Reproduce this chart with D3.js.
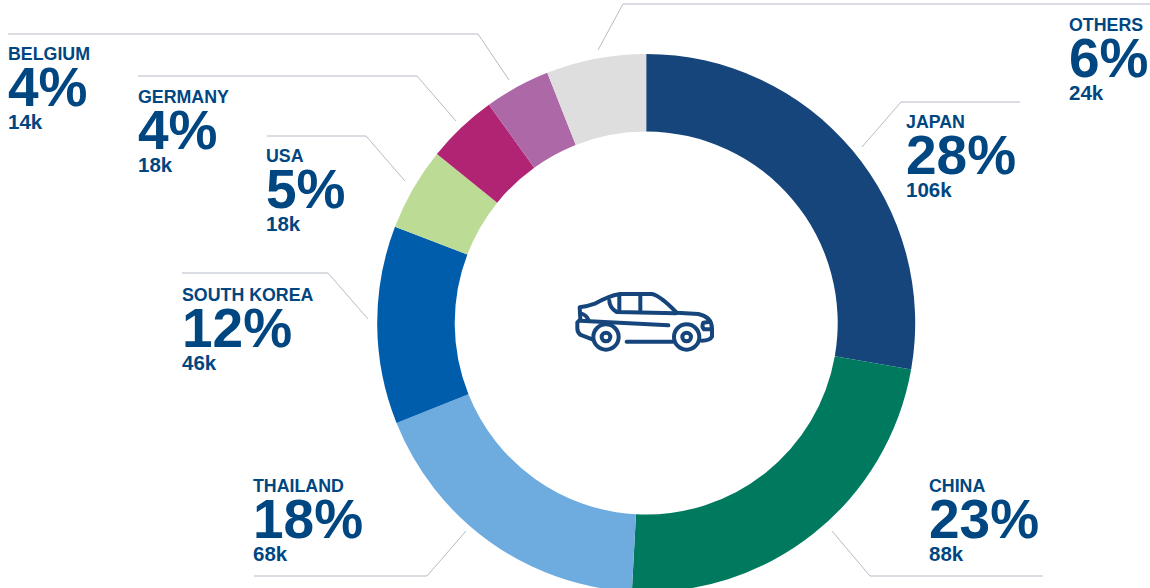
<!DOCTYPE html>
<html><head><meta charset="utf-8">
<script src="https://cdnjs.cloudflare.com/ajax/libs/d3/7.8.5/d3.min.js"></script>
<style>html,body{margin:0;padding:0;background:#fff;overflow:hidden}svg{display:block}
text{font-family:"Liberation Sans",Arial,sans-serif;font-weight:700;fill:#004680}</style>
</head><body><svg id="c" width="1150" height="588"></svg>
<script>
const countries=["JAPAN","CHINA","THAILAND","SOUTH KOREA","USA","GERMANY","BELGIUM","OTHERS"];
const shares=[27.8,23.1,18.1,11.9,5.0,4.25,3.95,6.0];
const pctLabels=["28%","23%","18%","12%","5%","4%","4%","6%"];
const volLabels=["106k","88k","68k","46k","18k","18k","14k","24k"];
const colors=["#16457b","#007a5e","#6eace0","#005dab","#bcdc95","#b12373","#ad68a7","#dedede"];
// annotation layout: label anchor [x, baseline of name]
const labelAnchors=[[906,127.5],[929,491.5],[253,491.5],[182,300.5],[266,161.5],[138,102.5],[8,60],[1069,30.5]];
const leaders=[
 [[1020,102],[901,102],[862,147]],
 [[1043,576],[870,576],[832,531]],
 [[254,576],[427,576],[466,531]],
 [[182,273],[328,273],[368,319]],
 [[267,136],[366,136],[405,181]],
 [[138,76],[417,76],[456,121]],
 [[8,34],[478,34],[509,80]],
 [[1150,4],[623,4],[598,50]]
];
const svg=d3.select("#c");
const cx=646.2,cy=323,R=269,r=191.5;
const pie=d3.pie().sort(null).value(d=>d);
const arc=d3.arc().innerRadius(r).outerRadius(R);
svg.append("g").attr("transform",`translate(${cx},${cy})`)
 .selectAll("path").data(pie(shares)).join("path")
 .attr("d",arc).attr("fill",(d,i)=>colors[i]);
const line=d3.line();
svg.append("g").selectAll("path").data(leaders).join("path")
 .attr("d",d=>line(d)).attr("fill","none").attr("stroke","#b5bcc7").attr("stroke-width",1);
const g=svg.append("g").selectAll("g").data(countries).join("g")
 .attr("transform",(d,i)=>`translate(${labelAnchors[i][0]},${labelAnchors[i][1]})`);
g.append("text").text(d=>d).attr("font-size",17.8);
g.append("text").text((d,i)=>pctLabels[i]).attr("y",46).attr("font-size",55);
g.append("text").text((d,i)=>volLabels[i]).attr("y",69).attr("font-size",20.5);
// car icon
const car=svg.append("g").attr("transform","translate(560,270) scale(0.3333)")
 .attr("fill","none").attr("stroke","#16457b").attr("stroke-width",12).attr("stroke-linecap","round").attr("stroke-linejoin","round");
const carPaths=[
 "M97,208 L62,195 Q52,188 52,175 L52,157 L61,148 L59,112 Q85,108 107,100 Q145,78 180,72 L275,72 Q300,76 350,128 L415,132 Q455,140 456,175 L456,200 Q450,212 425,212",
 "M200,215 L338,215",
 "M60,152 L325,166",
 "M148,92 Q148,112 170,126 L348,130",
 "M178,78 L178,124","M241,74 L241,126",
 "M62,130 Q80,134 86,152",
 "M450,155 L430,158 Q424,170 432,178 L455,178"
];
car.selectAll("path").data(carPaths).join("path").attr("d",d=>d);
car.selectAll("circle.o").data([[138,201],[380,201]]).join("circle").attr("class","o")
 .attr("cx",d=>d[0]).attr("cy",d=>d[1]).attr("r",38).attr("fill","#fff");
car.selectAll("circle.i").data([[138,201],[380,201]]).join("circle").attr("class","i")
 .attr("cx",d=>d[0]).attr("cy",d=>d[1]).attr("r",13);
</script></body></html>
